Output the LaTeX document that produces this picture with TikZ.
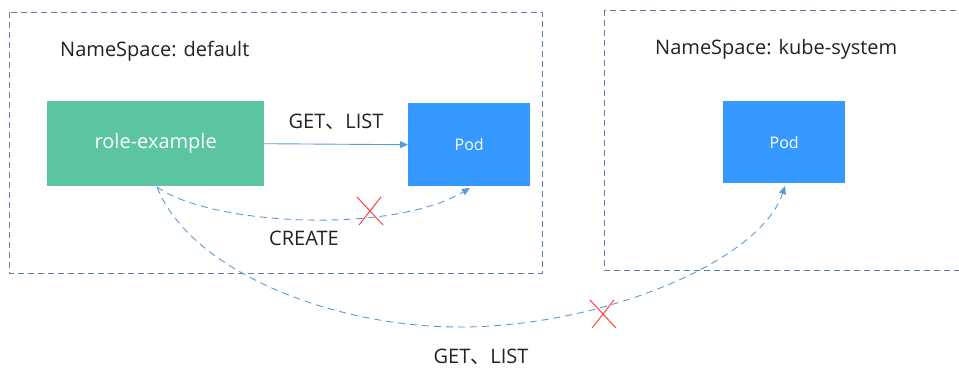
\documentclass[tikz,border=0pt]{standalone}
\usepackage{fontspec}
\setmainfont{Open Sans}
\newfontfamily\cjk{Noto Sans CJK SC}
\usetikzlibrary{arrows.meta}
\definecolor{nsline}{HTML}{5A80A8}
\definecolor{rolegreen}{HTML}{5BC4A0}
\definecolor{podblue}{HTML}{3699FF}
\definecolor{arrblue}{HTML}{5B9BD5}
\definecolor{txt}{HTML}{222222}
\definecolor{xred}{HTML}{FF4444}
\begin{document}
\begin{tikzpicture}[x=1pt,y=-1pt,
  nsbox/.style={draw=nsline,line width=0.9pt,dash pattern=on 6pt off 4pt},
  rolebox/.style={fill=rolegreen,draw=none,text=white,font=\fontsize{20}{24}\selectfont},
  podbox/.style={fill=podblue,draw=none,text=white,font=\fontsize{16}{19}\selectfont},
  lbl/.style={text=txt,font=\fontsize{20}{24}\selectfont,inner sep=0pt},
  conn/.style={draw=arrblue,line width=0.9pt,-{Triangle[length=8pt,width=7pt]}},
  dconn/.style={conn,dash pattern=on 7pt off 5pt},
  xmark/.style={draw=xred,line width=1pt}]
\useasboundingbox (0,0) rectangle (959,368);
\begin{scope}
\clip (0,0) rectangle (959,368);
\draw[nsbox] (9,12) rectangle (542,273);
\draw[nsbox] (604,10) rectangle (975,270);
\end{scope}
\node[lbl,anchor=base west] (ns1) at (60,56) {NameSpace: default};
\node[lbl,anchor=base west] (ns2) at (655,54) {NameSpace: kube-system};
\node[rolebox,minimum width=217pt,minimum height=85pt,anchor=north west] (role) at (47,101) {role-example};
\node[podbox,minimum width=122pt,minimum height=83pt,anchor=north west] (pod1) at (408,103) {Pod};
\node[podbox,minimum width=122pt,minimum height=82pt,anchor=north west] (pod2) at (723,101) {Pod};
\coordinate (rs) at (157,187);
\coordinate (p1b) at (470,188);
\coordinate (p2b) at (785,186);
\draw[conn] (role.east) -- (pod1.west);
\node[lbl] (gl1) at (336,122) {GET{\cjk 、}LIST};
\draw[dconn] (rs) .. controls (210,225) and (390,235) .. (p1b);
\node[lbl] (cr) at (304,238) {CREATE};
\draw[dconn] (rs) .. controls (190,270) and (330,327) .. (460,327) .. controls (600,327) and (760,262) .. (p2b);
\node[lbl] (gl2) at (481,357) {GET{\cjk 、}LIST};
\coordinate (x1) at (370,211);
\coordinate (x2) at (603,314);
\draw[xmark] ([shift={(-13,-14)}]x1) -- ([shift={(13,14)}]x1);
\draw[xmark] ([shift={(11,-14)}]x1) -- ([shift={(-11,14)}]x1);
\draw[xmark] ([shift={(-13,-14)}]x2) -- ([shift={(13,14)}]x2);
\draw[xmark] ([shift={(11,-14)}]x2) -- ([shift={(-11,14)}]x2);
\end{tikzpicture}
\end{document}
